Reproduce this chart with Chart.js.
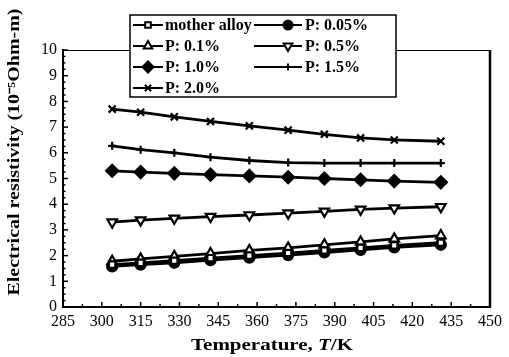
<!DOCTYPE html>
<html>
<head>
<meta charset="utf-8">
<script src="https://cdn.jsdelivr.net/npm/chart.js@4"></script>
<style>
  html,body{margin:0;padding:0;background:#fff;}
  #wrap{width:509px;height:357px;}
</style>
</head>
<body>
<div id="wrap"><canvas id="c" width="509" height="357"></canvas></div>
<script>
/* resistivity vs temperature — chart data */
const temps = [304, 315, 328, 342, 357, 372, 386, 400, 413, 431];
const motherAlloy = [1.65, 1.72, 1.80, 1.90, 2.00, 2.10, 2.20, 2.30, 2.40, 2.50];
const p005 = [1.58, 1.65, 1.72, 1.82, 1.92, 2.02, 2.12, 2.22, 2.32, 2.42];
const p01  = [1.78, 1.87, 1.97, 2.08, 2.20, 2.30, 2.42, 2.53, 2.65, 2.78];
const p05  = [3.30, 3.38, 3.45, 3.52, 3.58, 3.65, 3.72, 3.80, 3.85, 3.90];
const p10  = [5.30, 5.25, 5.20, 5.15, 5.10, 5.05, 5.00, 4.95, 4.90, 4.85];
const p15  = [6.27, 6.12, 6.00, 5.83, 5.70, 5.62, 5.60, 5.60, 5.60, 5.60];
const p20  = [7.70, 7.58, 7.40, 7.22, 7.05, 6.88, 6.72, 6.58, 6.50, 6.45];
const seriesNames = ['mother alloy', 'P: 0.05%', 'P: 0.1%', 'P: 0.5%', 'P: 1.0%', 'P: 1.5%', 'P: 2.0%'];
const xTicks = [285, 450, 15];   // min, max, step
const yTicks = [0, 10, 1];

const serif = '"Liberation Serif", "Times New Roman", serif';

// marker look per series
const marks = [
  {pointStyle:'rect',     radius:4.5, rotation:0, fill:'#fff'},
  {pointStyle:'circle',   radius:5, rotation:0,   fill:'#000'},
  {pointStyle:'triangle', radius:5.5, rotation:0, fill:'#fff'},
  {pointStyle:'triangle', radius:5.5, rotation:180, fill:'#fff'},
  {pointStyle:'rectRot',  radius:6, rotation:0,   fill:'#000'},
  {pointStyle:'cross',    radius:4, rotation:0,   fill:'#000'},
  {pointStyle:'crossRot', radius:5, rotation:0,   fill:'#000'},
];
const values = [motherAlloy, p005, p01, p05, p10, p15, p20];

const datasets = values.map((v,i)=>({
  label: seriesNames[i],
  data: temps.map((t,j)=>({x:t, y:v[j]})),
  borderColor:'#000', borderWidth:2.8,
  pointStyle: marks[i].pointStyle, pointRadius: marks[i].radius,
  pointRotation: marks[i].rotation,
  pointBackgroundColor: marks[i].fill, pointBorderColor:'#000', pointBorderWidth:2.2,
  tension:0
}));

// inward ticks, frame, titles, boxed legend
const decor = {
  id:'decor',
  afterDraw(chart){
    const {ctx, chartArea:a, scales:{x, y}} = chart;
    ctx.save();
    ctx.strokeStyle = '#000';
    // frame: top thin, right heavy
    ctx.lineWidth = 1;
    ctx.beginPath(); ctx.moveTo(a.left, a.top+0.5); ctx.lineTo(a.right, a.top+0.5); ctx.stroke();
    ctx.lineWidth = 2.5;
    ctx.beginPath(); ctx.moveTo(a.right, a.top); ctx.lineTo(a.right, a.bottom); ctx.stroke();
    // ticks
    ctx.lineWidth = 1.5;
    for(let v=xTicks[0]; v<=xTicks[1]; v+=xTicks[2]/2){
      const px = x.getPixelForValue(v), len = (v-xTicks[0])%xTicks[2]===0 ? 5 : 3;
      ctx.beginPath(); ctx.moveTo(px, a.bottom); ctx.lineTo(px, a.bottom-len); ctx.stroke();
    }
    for(let v=yTicks[0]; v<=yTicks[1]; v+=0.25){
      const py = y.getPixelForValue(v), len = v%1===0 ? 5 : 2.5;
      ctx.beginPath(); ctx.moveTo(a.left, py); ctx.lineTo(a.left+len, py); ctx.stroke();
    }
    // axis titles (stretched to match the original type)
    ctx.fillStyle = '#000';
    ctx.font = 'bold 16px ' + serif;
    ctx.textAlign = 'center'; ctx.textBaseline = 'middle';
    let txt = 'Electrical resistivity (10\u207B\u2075Ohm-m)';
    let w = ctx.measureText(txt).width;
    ctx.save(); ctx.translate(15, 152); ctx.rotate(-Math.PI/2); ctx.scale(287/w, 1);
    ctx.fillText(txt, 0, 0); ctx.restore();
    // x title with italic T
    const parts = [['Temperature, ', 'bold'], ['T', 'italic bold'], ['/K', 'bold']];
    const widths = parts.map(([s,f]) => { ctx.font = f+' 16px '+serif; return ctx.measureText(s).width; });
    w = widths.reduce((p,q)=>p+q, 0);
    ctx.save(); ctx.translate(272, 346); ctx.scale(162/w, 1);
    ctx.textAlign = 'left';
    let cx = -w/2;
    parts.forEach(([s,f],i) => { ctx.font = f+' 16px '+serif; ctx.fillText(s, cx, 0); cx += widths[i]; });
    ctx.restore();
    // legend box
    ctx.fillStyle = '#fff';
    ctx.fillRect(130, 15, 266, 82);
    ctx.lineWidth = 1.5;
    ctx.strokeRect(130, 15, 266, 82);
    const rows = [25, 46, 67, 88];
    const cols = [{l0:133, l1:163, m:148, t:165}, {l0:254, l1:302, m:288, t:305}];
    ctx.font = 'bold 16px ' + serif;
    ctx.textAlign = 'left';
    datasets.forEach((ds,i)=>{
      const r = rows[Math.floor(i/2)], c = cols[i%2];
      ctx.strokeStyle = '#000'; ctx.lineWidth = 2;
      ctx.beginPath(); ctx.moveTo(c.l0, r); ctx.lineTo(c.l1, r); ctx.stroke();
      ctx.fillStyle = marks[i].fill; ctx.lineWidth = 2;
      Chart.helpers.drawPoint(ctx, {pointStyle:marks[i].pointStyle, radius:marks[i].radius - 0.5, rotation:marks[i].rotation, borderWidth:2}, c.m, r);
      ctx.fillStyle = '#000';
      ctx.fillText(ds.label, c.t, r+1);
    });
    ctx.restore();
  }
};

new Chart(document.getElementById('c'), {
  type:'line',
  data:{datasets},
  options:{
    responsive:false, animation:false,
    layout:{padding:{top:50, right:19, left:0, bottom:0}},
    plugins:{legend:{display:false}, tooltip:{enabled:false}},
    scales:{
      x:{
        type:'linear', min:xTicks[0], max:xTicks[1],
        ticks:{stepSize:xTicks[2], color:'#000', font:{family:serif, size:16}, padding:5, maxRotation:0, autoSkip:false},
        grid:{display:false, drawTicks:false},
        border:{display:true, color:'#000', width:2},
        afterFit: s => { s.height = 50; }
      },
      y:{
        min:yTicks[0], max:yTicks[1],
        ticks:{stepSize:yTicks[2], color:'#000', font:{family:serif, size:16}, padding:6},
        grid:{display:false, drawTicks:false},
        border:{display:true, color:'#000', width:2},
        afterFit: s => { s.width = 63; }
      }
    }
  },
  plugins:[decor]
});
</script>
</body>
</html>
